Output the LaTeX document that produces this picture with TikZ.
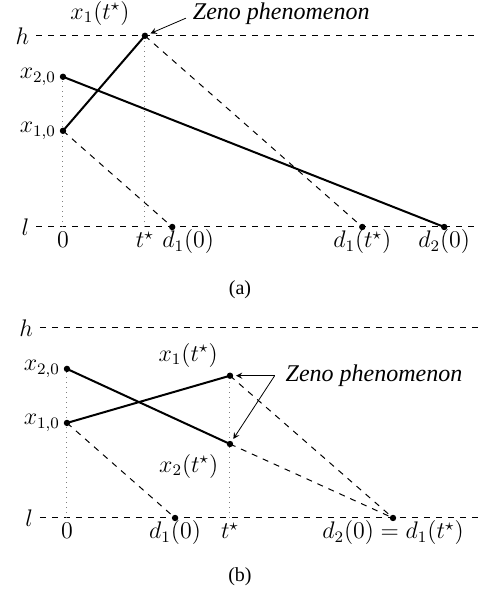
\documentclass[tikz,border=0pt]{standalone}
\usepackage{fontspec}
\newfontfamily\capfont{Liberation Serif}
\usetikzlibrary{positioning}

\begin{document}
\begin{tikzpicture}[>=stealth, font=\fontsize{12}{14}\selectfont,
  traj/.style={line width=1pt},
  bound/.style={dashed, line width=0.5pt},
  ray/.style={dashed, line width=0.5pt},
  guide/.style={dotted, gray, line width=0.5pt},
  ticklab/.style={below, text height=1.6ex, text depth=.4ex},
  zeno/.style={anchor=west, font=\capfont\itshape\fontsize{12}{14}\selectfont},
  caption/.style={font=\capfont\fontsize{10}{12}\selectfont}]
  \useasboundingbox (-1.107,-6.415) rectangle (7.293,3.989);
  % (a): x_1 hits h before x_2 reaches l
  \coordinate (a0) at (0,0);
  \coordinate (ax20) at (0,2.64);
  \coordinate (ax10) at (0,1.69);
  \coordinate (ats) at (1.44,0);
  \coordinate (ax1ts) at (1.44,3.36);
  \coordinate (ad10) at (1.92,0);
  \coordinate (ad1ts) at (5.26,0);
  \coordinate (ad20) at (6.70,0);
  \coordinate (ahs) at (-0.47,3.36);
  \coordinate (ahe) at (7.29,3.36);
  \coordinate (als) at (-0.47,0);
  \coordinate (ale) at (7.29,0);
  % Thresholds
  \draw[bound] (ahs) -- (ahe);
  \draw[bound] (als) -- (ale);
  \node[left] (ah) at (ahs) {$h$};
  \node[left] (al) at (als) {$l$};
  % Guides
  \draw[guide] (a0) -- (ax20);
  \draw[guide] (ats) -- (ax1ts);
  % Trajectories
  \draw[traj] (ax10) -- (ax1ts);
  \draw[traj] (ax20) -- (ad20);
  \draw[ray] (ax10) -- (ad10);
  \draw[ray] (ax1ts) -- (ad1ts);
  \foreach \p in {ax20,ax10,ax1ts,ad10,ad1ts,ad20}
    \fill (\p) circle (1.6pt);
  % Labels
  \node[left] (ax20l) at (ax20) {$x_{2,0}$};
  \node[left] (ax10l) at (ax10) {$x_{1,0}$};
  \node (ax1tsl) at (0.65,3.76) {$x_1(t^\star)$};
  \node[ticklab] (a0l) at (a0) {$0$};
  \node[ticklab] (atsl) at (ats) {$t^\star$};
  \node[ticklab, xshift=8pt] (ad10l) at (ad10) {$d_1(0)$};
  \node[ticklab] (ad1tsl) at (ad1ts) {$d_1(t^\star)$};
  \node[ticklab] (ad20l) at (ad20) {$d_2(0)$};
  \node[zeno] (azeno) at (2.16,3.74) {Zeno phenomenon};
  \draw[->, shorten >=3pt] ([yshift=-2pt]azeno.west) -- (ax1ts);
  \node[caption] (acap) at (3.11,-1.11) {(a)};

  % (b): x_1 and x_2 hit their targets together
  \begin{scope}[shift={(0.07,-5.114)}]
    \coordinate (b0) at (0,0);
    \coordinate (bx20) at (0,2.62);
    \coordinate (bx10) at (0,1.67);
    \coordinate (bts) at (2.865,0);
    \coordinate (bx1ts) at (2.865,2.50);
    \coordinate (bx2ts) at (2.865,1.30);
    \coordinate (bd10) at (1.90,0);
    \coordinate (bd) at (5.73,0);
    \coordinate (bhs) at (-0.475,3.34);
    \coordinate (bhe) at (7.22,3.34);
    \coordinate (bls) at (-0.475,0);
    \coordinate (ble) at (7.22,0);
    % Thresholds
    \draw[bound] (bhs) -- (bhe);
    \draw[bound] (bls) -- (ble);
    \node[left] (bh) at (bhs) {$h$};
    \node[left] (bl) at (bls) {$l$};
    % Guides
    \draw[guide] (b0) -- (bx20);
    \draw[guide] (bts) -- (bx1ts);
    % Trajectories
    \draw[traj] (bx10) -- (bx1ts);
    \draw[traj] (bx20) -- (bx2ts);
    \draw[ray] (bx10) -- (bd10);
    \draw[ray] (bx1ts) -- (bd);
    \draw[ray] (bx2ts) -- (bd);
    \foreach \p in {bx20,bx10,bx1ts,bx2ts,bd10,bd}
      \fill (\p) circle (1.6pt);
    % Labels
    \node[left] (bx20l) at (bx20) {$x_{2,0}$};
    \node[left] (bx10l) at (bx10) {$x_{1,0}$};
    \node (bx1tsl) at (2.13,2.86) {$x_1(t^\star)$};
    \node (bx2tsl) at (2.14,0.91) {$x_2(t^\star)$};
    \node[ticklab] (b0l) at (b0) {$0$};
    \node[ticklab] (bd10l) at (bd10) {$d_1(0)$};
    \node[ticklab] (btsl) at (bts) {$t^\star$};
    \node[ticklab] (bdl) at (bd) {$d_2(0) = d_1(t^\star)$};
    \node[zeno] (bzeno) at (3.72,2.50) {Zeno phenomenon};
    \draw[->, shorten >=3pt] ([xshift=-2pt]bzeno.west) -- (bx1ts);
    \draw[->, shorten >=3pt] ([xshift=-2pt]bzeno.west) -- (bx2ts);
    \node[caption] (bcap) at (3.04,-1.04) {(b)};
  \end{scope}
\end{tikzpicture}
\end{document}
